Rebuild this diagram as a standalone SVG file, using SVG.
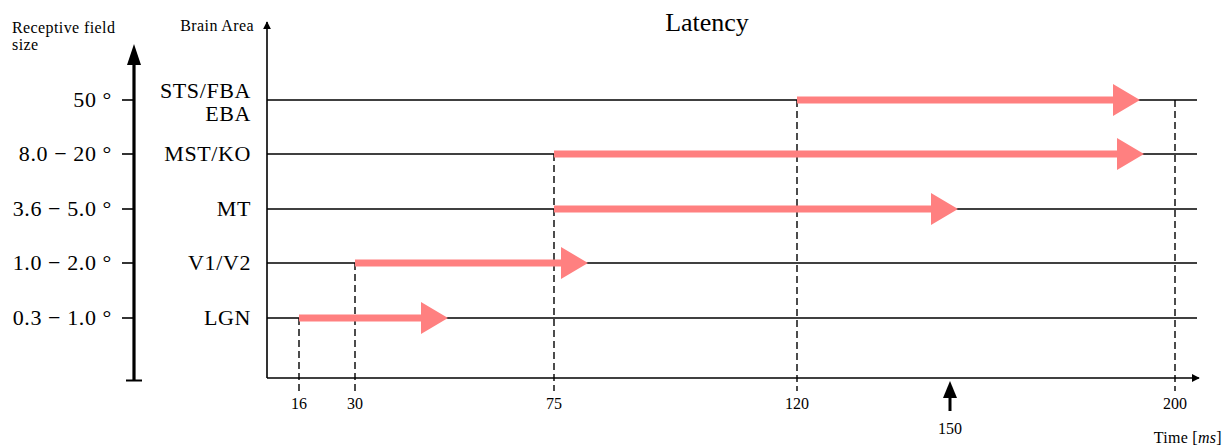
<svg xmlns="http://www.w3.org/2000/svg" width="1224" height="446" viewBox="0 0 1224 446">
<style>
text{font-family:"Liberation Serif","DejaVu Serif",serif;fill:#000}
.big{font-size:22px;letter-spacing:0.6px}
.sm{font-size:16px;letter-spacing:0.4px}
.tk{font-size:16px;text-anchor:middle}
.ax{stroke:#000;stroke-width:1.6;fill:none}
.dash{stroke:#000;stroke-width:1.4;stroke-dasharray:7,4;fill:none}
.shaft{stroke:#FF8080;stroke-width:7;fill:none}
.head{fill:#FF8080}
</style>
<defs>
<marker id="ah" viewBox="0 0 10 10" refX="9" refY="5" markerWidth="8" markerHeight="8" markerUnits="userSpaceOnUse" orient="auto"><path d="M0,0 L10,5 L0,10 z" fill="#000"/></marker>
</defs>
<text x="707" y="31" style="font-size:26px" text-anchor="middle">Latency</text>
<g id="rf-axis">
<text class="sm" x="12" y="33">Receptive field</text>
<text class="sm" x="12" y="50">size</text>
<line x1="134" y1="380" x2="134" y2="62" stroke="#000" stroke-width="3.2"/>
<path d="M134,44 L127,65 L141,65 z" fill="#000"/>
<line x1="126" y1="380.5" x2="142" y2="380.5" stroke="#000" stroke-width="2"/>
<g stroke="#000" stroke-width="1.6">
<line x1="122" y1="100" x2="134" y2="100"/>
<line x1="122" y1="154" x2="134" y2="154"/>
<line x1="122" y1="209" x2="134" y2="209"/>
<line x1="122" y1="263" x2="134" y2="263"/>
<line x1="122" y1="318" x2="134" y2="318"/>
</g>
<g class="big" text-anchor="end">
<text x="112" y="107">50 °</text>
<text x="112" y="161">8.0 − 20 °</text>
<text x="112" y="216">3.6 − 5.0 °</text>
<text x="112" y="270">1.0 − 2.0 °</text>
<text x="112" y="325">0.3 − 1.0 °</text>
</g>
</g>
<g id="axes">
<text class="sm" x="254" y="31" text-anchor="end">Brain Area</text>
<line class="ax" x1="267" y1="378" x2="267" y2="22" marker-end="url(#ah)"/>
<line class="ax" x1="267" y1="378" x2="1199" y2="378" marker-end="url(#ah)"/>
<text x="1222" y="443" style="font-size:16px;letter-spacing:0.3px" text-anchor="end">Time [<tspan font-style="italic">ms</tspan>]</text>
</g>
<g id="areas">
<g class="big" text-anchor="end">
<text x="251" y="98">STS/FBA</text>
<text x="251" y="121">EBA</text>
<text x="251" y="161">MST/KO</text>
<text x="251" y="216">MT</text>
<text x="251" y="270">V1/V2</text>
<text x="251" y="325">LGN</text>
</g>
<g class="ax">
<line x1="267" y1="100" x2="1197" y2="100"/>
<line x1="267" y1="154" x2="1197" y2="154"/>
<line x1="267" y1="209" x2="1197" y2="209"/>
<line x1="267" y1="263" x2="1197" y2="263"/>
<line x1="267" y1="318" x2="1197" y2="318"/>
</g>
</g>
<g id="connectors">
<line class="dash" x1="299" y1="318" x2="299" y2="391"/>
<line class="dash" x1="355" y1="263" x2="355" y2="391"/>
<line class="dash" x1="554" y1="154" x2="554" y2="391"/>
<line class="dash" x1="797" y1="100" x2="797" y2="391"/>
<line class="dash" x1="1175" y1="100" x2="1175" y2="391"/>
<line class="shaft" x1="299" y1="318" x2="423" y2="318"/>
<path class="head" d="M448,318 L421,302 L421,334 z"/>
<line class="shaft" x1="355" y1="263" x2="563" y2="263"/>
<path class="head" d="M588,263 L561,247 L561,279 z"/>
<line class="shaft" x1="554" y1="209" x2="933" y2="209"/>
<path class="head" d="M958,209 L931,193 L931,225 z"/>
<line class="shaft" x1="554" y1="154" x2="1119" y2="154"/>
<path class="head" d="M1144,154 L1117,138 L1117,170 z"/>
<line class="shaft" x1="797" y1="100" x2="1115" y2="100"/>
<path class="head" d="M1140,100 L1113,84 L1113,116 z"/>
</g>
<g id="ticks">
<text class="tk" x="299" y="409">16</text>
<text class="tk" x="355" y="409">30</text>
<text class="tk" x="554" y="409">75</text>
<text class="tk" x="797" y="409">120</text>
<text class="tk" x="1175" y="409">200</text>
<line x1="950" y1="411" x2="950" y2="395" stroke="#000" stroke-width="3"/>
<path d="M950,381 L943,398 L957,398 z" fill="#000"/>
<text class="tk" x="950" y="434">150</text>
</g>
</svg>
